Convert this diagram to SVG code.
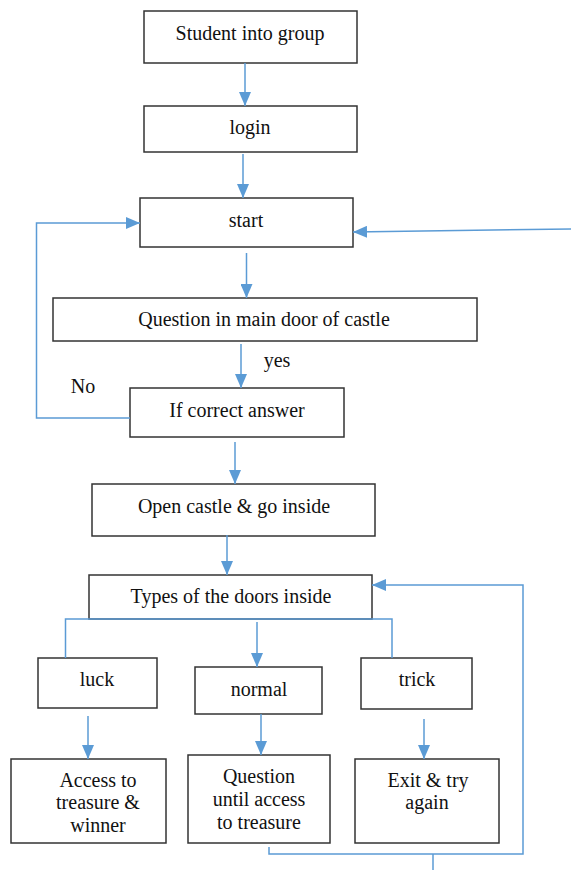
<svg xmlns="http://www.w3.org/2000/svg" width="571" height="870" viewBox="0 0 571 870">
<style>
.box{fill:#fff;stroke:#333;stroke-width:1.5}
.t{font-family:'Liberation Serif','Times New Roman','DejaVu Serif',serif;font-size:20px;fill:#111;text-anchor:middle}
.c{fill:none;stroke:#5B9BD5;stroke-width:1.5}
.a{marker-end:url(#arr)}
</style>
<defs>
<marker id="arr" viewBox="0 0 14 12" refX="14" refY="6" markerWidth="14" markerHeight="12" markerUnits="userSpaceOnUse" orient="auto">
<path d="M0,0 L14,6 L0,12 z" fill="#5B9BD5"/>
</marker>
</defs>
<g id="n1"><rect class="box" x="144" y="11" width="213" height="52"/><text class="t" x="250" y="40">Student into group</text></g>
<g id="n2"><rect class="box" x="144" y="106" width="213" height="46"/><text class="t" x="250" y="134">login</text></g>
<g id="n3"><rect class="box" x="140" y="198" width="213" height="49"/><text class="t" x="246" y="227">start</text></g>
<g id="n4"><rect class="box" x="53" y="298" width="424" height="43"/><text class="t" x="264" y="326">Question in main door of castle</text></g>
<g id="n5"><rect class="box" x="130" y="388" width="214" height="49"/><text class="t" x="237" y="417">If correct answer</text></g>
<g id="n6"><rect class="box" x="92" y="484" width="283" height="52"/><text class="t" x="234" y="513">Open castle &amp; go inside</text></g>
<g id="n7"><rect class="box" x="89" y="575" width="283" height="44"/><text class="t" x="231" y="603">Types of the doors inside</text></g>
<g id="n8"><rect class="box" x="38" y="658" width="119" height="50"/><text class="t" x="97" y="686">luck</text></g>
<g id="n9"><rect class="box" x="195" y="667" width="127" height="47"/><text class="t" x="259" y="696">normal</text></g>
<g id="n10"><rect class="box" x="361" y="658" width="111" height="51"/><text class="t" x="417" y="686">trick</text></g>
<g id="n11"><rect class="box" x="11" y="759" width="155" height="84"/><text class="t" x="98" y="787">Access to</text><text class="t" x="98" y="809">treasure &amp;</text><text class="t" x="98" y="832">winner</text></g>
<g id="n12"><rect class="box" x="188" y="755" width="142" height="88"/><text class="t" x="259" y="783">Question</text><text class="t" x="259" y="806">until access</text><text class="t" x="259" y="829">to treasure</text></g>
<g id="n13"><rect class="box" x="355" y="759" width="144" height="84"/><text class="t" x="428" y="787">Exit &amp; try</text><text class="t" x="427" y="809">again</text></g>
<g id="labels"><text class="t" x="277" y="367">yes</text><text class="t" x="83" y="393">No</text></g>
<g id="connectors">
<line class="c a" x1="245" y1="63" x2="245" y2="106"/>
<line class="c a" x1="243" y1="154" x2="243" y2="198"/>
<line class="c a" x1="246.5" y1="253" x2="246.5" y2="298"/>
<line class="c a" x1="241" y1="344" x2="241" y2="388"/>
<line class="c a" x1="235" y1="442" x2="235" y2="484"/>
<line class="c a" x1="227" y1="535" x2="227" y2="575"/>
<polyline class="c a" points="130,418 36.5,418 36.5,223 140,223"/>
<line class="c a" x1="571" y1="229" x2="353" y2="232"/>
<polyline class="c" points="65.5,658 65.5,619 392,619 392,658"/>
<line class="c a" x1="257" y1="622" x2="257" y2="667"/>
<line class="c a" x1="88" y1="716" x2="88" y2="759"/>
<line class="c a" x1="261" y1="714" x2="261" y2="755"/>
<line class="c a" x1="424" y1="719" x2="424" y2="759"/>
<polyline class="c a" points="269,847 269,854 523,854 523,585 372,585"/>
<line class="c" x1="433" y1="854" x2="433" y2="870"/>
</g>
</svg>
